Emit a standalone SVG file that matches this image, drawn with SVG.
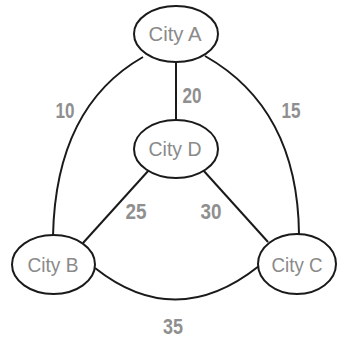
<svg xmlns="http://www.w3.org/2000/svg" width="337" height="342" viewBox="0 0 337 342">
<style>
.node ellipse{fill:#fff;stroke:#1a1a1a;stroke-width:2}
.node text{font-family:"Liberation Sans",Arial,sans-serif;font-size:21px;fill:#8a8a8a;text-anchor:middle}
.edge{fill:none;stroke:#1a1a1a;stroke-width:2}
.w{font-family:"Liberation Sans",Arial,sans-serif;font-size:22px;font-weight:bold;fill:#8f8f8f;text-anchor:middle}
</style>
<rect width="337" height="342" fill="#fff"/>
<g id="connectors">
<line class="edge" x1="176" y1="62" x2="176" y2="120"/>
<path class="edge" d="M143,57 C92,86 55,140 53,236"/>
<path class="edge" d="M205,56 C258,86 298,140 299,234"/>
<line class="edge" x1="149" y1="170" x2="83" y2="243"/>
<line class="edge" x1="203" y1="170" x2="268" y2="242"/>
<path class="edge" d="M95,268 Q176,332 259,266"/>
<text class="w" x="192" y="103" textLength="19" lengthAdjust="spacingAndGlyphs">20</text>
<text class="w" x="65" y="118" textLength="19" lengthAdjust="spacingAndGlyphs">10</text>
<text class="w" x="291" y="118" textLength="19" lengthAdjust="spacingAndGlyphs">15</text>
<text class="w" x="136" y="219" textLength="21" lengthAdjust="spacingAndGlyphs">25</text>
<text class="w" x="211" y="219" textLength="21" lengthAdjust="spacingAndGlyphs">30</text>
<text class="w" x="173" y="334" textLength="20" lengthAdjust="spacingAndGlyphs">35</text>
</g>
<g id="cityA" class="node"><ellipse cx="176" cy="34" rx="42" ry="28"/><text x="175" y="41" textLength="53" lengthAdjust="spacingAndGlyphs">City A</text></g>
<g id="cityD" class="node"><ellipse cx="176" cy="149" rx="42" ry="29"/><text x="175" y="156" textLength="53" lengthAdjust="spacingAndGlyphs">City D</text></g>
<g id="cityB" class="node"><ellipse cx="53.5" cy="264.5" rx="41.5" ry="29.5"/><text x="53" y="272" textLength="51" lengthAdjust="spacingAndGlyphs">City B</text></g>
<g id="cityC" class="node"><ellipse cx="297" cy="264" rx="39" ry="30"/><text x="297" y="272" textLength="51" lengthAdjust="spacingAndGlyphs">City C</text></g>
</svg>
